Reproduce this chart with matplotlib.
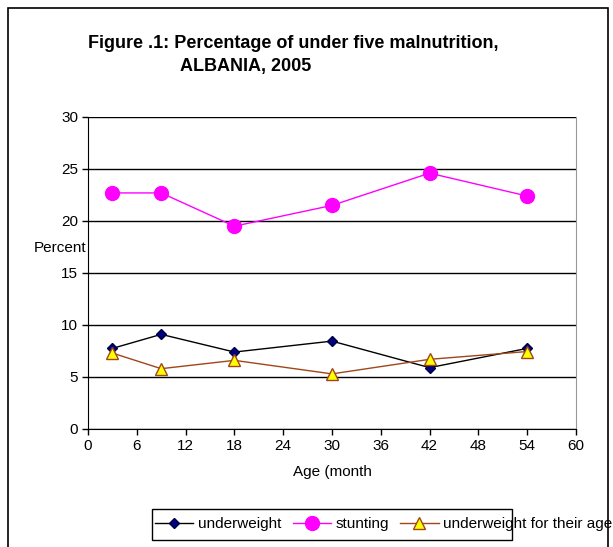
import matplotlib.pyplot as plt
from matplotlib.patches import Rectangle
from matplotlib.lines import Line2D

plt.rcParams['font.family'] = ['Liberation Sans', 'DejaVu Sans']

# data
age = [3, 9, 18, 30, 42, 54]
underweight = [7.75, 9.1, 7.4, 8.45, 5.9, 7.75]
stunting = [22.7, 22.7, 19.5, 21.5, 24.6, 22.4]
underweight_age = [7.3, 5.8, 6.6, 5.3, 6.7, 7.45]
x_ticks = list(range(0, 61, 6))
y_ticks = list(range(0, 31, 5))

W, H = 613, 547
fig = plt.figure(figsize=(W / 100, H / 100), dpi=100)

# axes box in pixels: left 88, right 576, top 117, bottom 429
ax = fig.add_axes([88 / W, 1 - 429 / H, (576 - 88) / W, (429 - 117) / H])

ax.plot(age, stunting, color='#FF00FF', lw=1, marker='o', ms=10,
        mfc='#FF00FF', mec='#FF00FF', zorder=3)
ax.plot(age, underweight, color='black', lw=1, marker='D', ms=5,
        mfc='#000080', mec='#000040', zorder=4)
ax.plot(age, underweight_age, color='#A0461A', lw=1, marker='^', ms=8,
        mfc='#FFFF00', mec='#A0461A', zorder=5)

ax.set_xlim(0, 60)
ax.set_ylim(0, 30)
ax.set_xticks(x_ticks)
ax.set_yticks(y_ticks)
ax.tick_params(labelsize=11, length=4, width=1, color='black', pad=3)
ax.yaxis.grid(True, color='black', lw=1)
ax.set_axisbelow(True)
for s in ['left', 'bottom']:
    ax.spines[s].set_color('black')
ax.spines['top'].set_visible(False)
ax.spines['right'].set_color('#999999')

ax.set_xlabel('Age (month', fontsize=11, labelpad=9)
fig.text(34 / W, 1 - 248 / H, 'Percent', fontsize=11, va='center', ha='left')

fig.text(88 / W, 1 - 43 / H, 'Figure .1: Percentage of under five malnutrition,',
         fontsize=13, fontweight='bold', va='center', ha='left')
fig.text(180 / W, 1 - 66 / H, 'ALBANIA, 2005',
         fontsize=13, fontweight='bold', va='center', ha='left')

# outer frame
fig.patches.append(Rectangle((8 / W, -0.05), 600 / W, 1 - 8 / H + 0.05,
                             transform=fig.transFigure, fill=False,
                             ec='black', lw=1.2))

# legend
handles = [
    Line2D([], [], color='black', lw=1, marker='D', ms=5, mfc='#000080', mec='#000040'),
    Line2D([], [], color='#FF00FF', lw=1, marker='o', ms=10, mfc='#FF00FF', mec='#FF00FF'),
    Line2D([], [], color='#A0461A', lw=1, marker='^', ms=8, mfc='#FFFF00', mec='#A0461A'),
]
labels = ['underweight', 'stunting', 'underweight for their age']
fig.legend(handles, labels, loc='center left', bbox_to_anchor=(155 / W, 1 - 524 / H),
           ncol=3, frameon=False, fontsize=11, handlelength=2.5,
           columnspacing=0.75, handletextpad=0.3, borderaxespad=0, borderpad=0)
fig.patches.append(Rectangle((152 / W, 1 - 540 / H), 360 / W, 31 / H,
                             transform=fig.transFigure, fill=False,
                             ec='black', lw=1))

fig.savefig('out.png', dpi=100)
